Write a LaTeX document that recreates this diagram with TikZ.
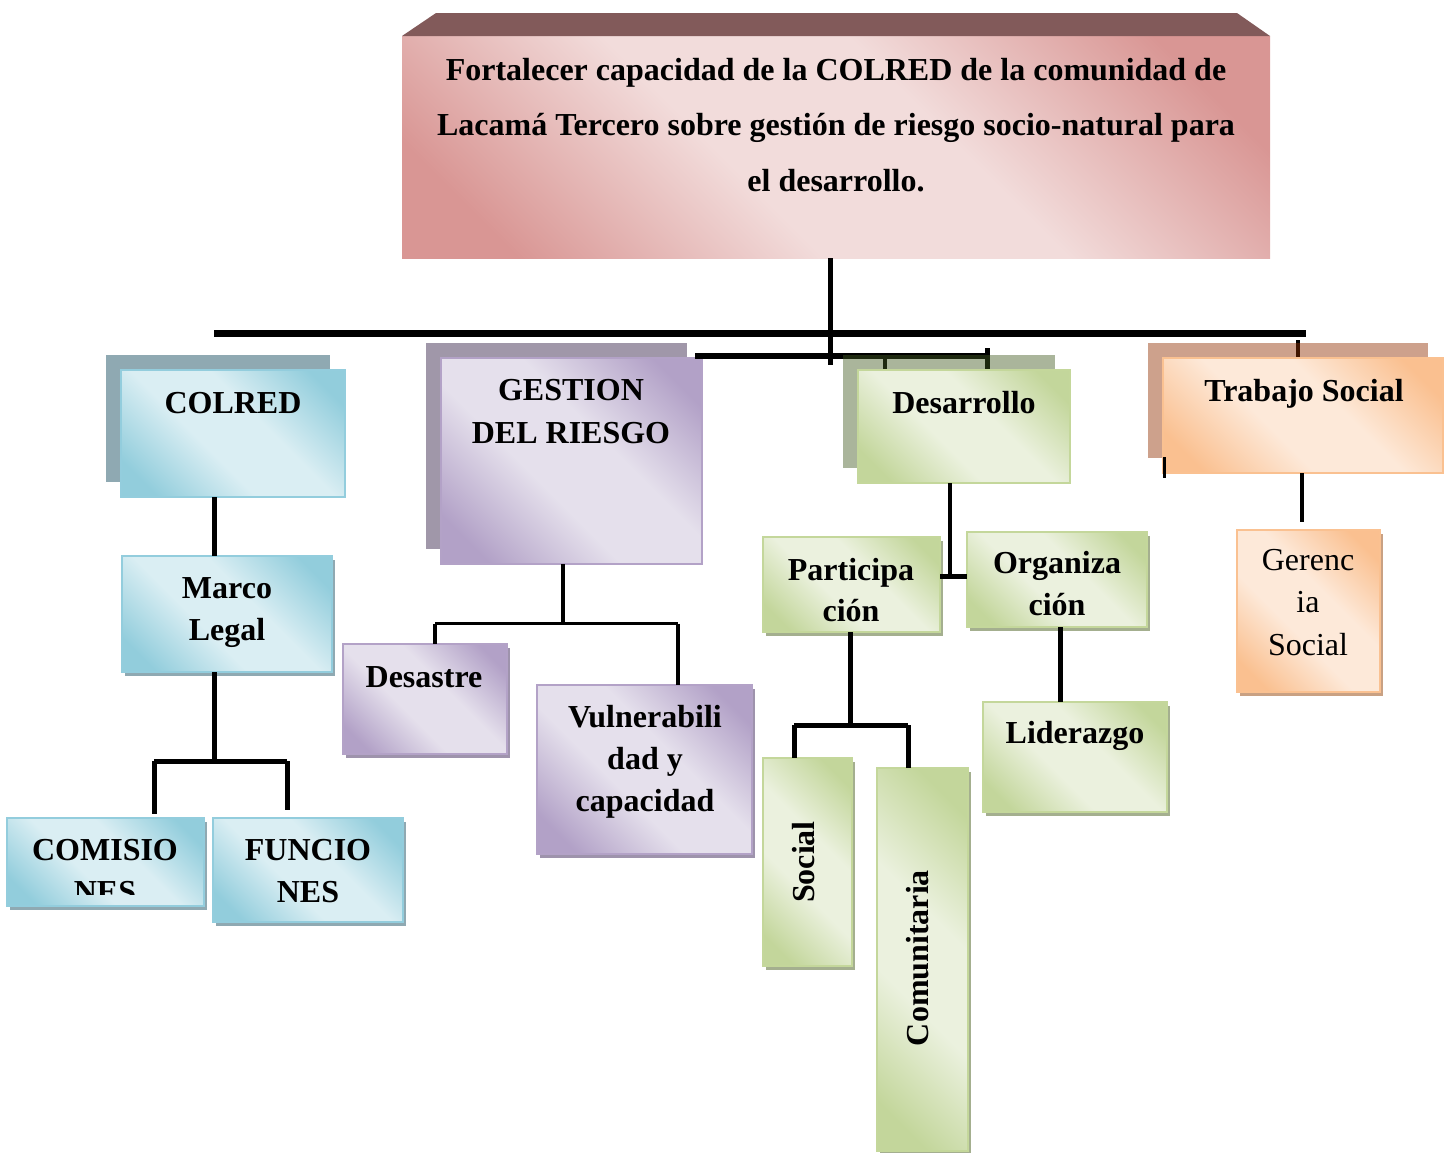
\documentclass[tikz,border=0pt]{standalone}
\usepackage{fontspec}
\setmainfont{Liberation Serif}
\usetikzlibrary{shadows}

\definecolor{pinkL}{HTML}{F2DCDB}
\definecolor{pinkD}{HTML}{D99694}
\definecolor{titletop}{HTML}{825A5A}
\definecolor{blueL}{HTML}{DAEEF3}
\definecolor{blueD}{HTML}{92CDDC}
\definecolor{blueB}{HTML}{93CDDD}
\definecolor{blueS}{HTML}{8FA9B2}
\definecolor{purpL}{HTML}{E5E0EC}
\definecolor{purpD}{HTML}{B2A1C7}
\definecolor{purpB}{HTML}{B3A2C7}
\definecolor{purpS}{HTML}{A097A9}
\definecolor{purpSs}{HTML}{9E93AC}
\definecolor{greenL}{HTML}{EBF1DE}
\definecolor{greenD}{HTML}{C3D69B}
\definecolor{greenB}{HTML}{C4D79B}
\definecolor{greenS}{RGB}{66,90,34}
\definecolor{greenSs}{HTML}{A4AF8F}
\definecolor{orangeL}{HTML}{FDE9D9}
\definecolor{orangeD}{HTML}{FAC090}
\definecolor{orangeB}{HTML}{FAC191}
\definecolor{orangeS}{RGB}{144,47,0}
\definecolor{orangeSs}{HTML}{C9A183}

\pgfdeclarehorizontalshading{gpink}{100bp}{color(0bp)=(pinkD); color(22bp)=(pinkD); color(42bp)=(pinkL); color(58bp)=(pinkL); color(78bp)=(pinkD); color(100bp)=(pinkD)}
\pgfdeclarehorizontalshading{gblue}{100bp}{color(0bp)=(blueD); color(22bp)=(blueD); color(42bp)=(blueL); color(58bp)=(blueL); color(78bp)=(blueD); color(100bp)=(blueD)}
\pgfdeclarehorizontalshading{gpurp}{100bp}{color(0bp)=(purpD); color(22bp)=(purpD); color(42bp)=(purpL); color(58bp)=(purpL); color(78bp)=(purpD); color(100bp)=(purpD)}
\pgfdeclarehorizontalshading{ggreen}{100bp}{color(0bp)=(greenD); color(22bp)=(greenD); color(42bp)=(greenL); color(58bp)=(greenL); color(78bp)=(greenD); color(100bp)=(greenD)}
\pgfdeclarehorizontalshading{gorange}{100bp}{color(0bp)=(orangeD); color(22bp)=(orangeD); color(42bp)=(orangeL); color(58bp)=(orangeL); color(78bp)=(orangeD); color(100bp)=(orangeD)}

\newcommand\lns[1]{\begin{tabular}[t]{@{}c@{}}#1\end{tabular}}

\tikzset{
  bx/.style={rectangle, inner sep=0pt, outer sep=0pt, anchor=north west, line width=1.5pt, shading angle=45},
  pinkbox/.style={bx, shading=gpink},
  bluebox/.style={bx, draw=blueB, shading=gblue},
  purpbox/.style={bx, draw=purpB, shading=gpurp},
  greenbox/.style={bx, draw=greenB, shading=ggreen},
  orangebox/.style={bx, draw=orangeB, shading=gorange},
  smallsh/.style={general shadow={shadow xshift=3pt, shadow yshift=-4pt, fill=#1}},
  bigsh/.style={general shadow={shadow xshift=-15pt, shadow yshift=15pt, fill=#1}},
  bigtsh/.style={general shadow={shadow xshift=-15pt, shadow yshift=15pt, fill=#1, fill opacity=0.45}},
  conn/.style={line width=5pt, draw=black},
  thinconn/.style={line width=3.5pt, draw=black},
  lbl/.style={anchor=base, inner sep=0pt, font=\bfseries\fontsize{32}{42}\selectfont},
}

\begin{document}
\begin{tikzpicture}[x=1pt, y=-1pt]
\useasboundingbox (0,0) rectangle (1451,1152);

% ---- title box
\node[pinkbox, minimum width=868pt, minimum height=222pt] (title) at (402,36) {};
\fill[titletop] (title.north west) -- (436,13) -- (1237,13) -- (title.north east) -- cycle;

% ---- boxes behind main lines
\node[purpbox, bigsh=purpS, minimum width=261pt, minimum height=206pt] (gestion) at (441,358) {};
\node[bluebox, bigsh=blueS, minimum width=224pt, minimum height=127pt] (colred) at (121,370) {};

% ---- main lines
\coordinate (mbL) at (214,333);
\coordinate (mbR) at (1306,333);
\coordinate (jt) at (830,365);
\coordinate (b2L) at (695,356);
\coordinate (b2R) at (990,356);
\coordinate (tk1a) at (885,356);
\coordinate (tk1b) at (885,371);
\coordinate (tk2a) at (987,348);
\coordinate (tk2b) at (987,371);
\coordinate (tk3a) at (1298,340);
\coordinate (tk3b) at (1298,358);
\draw[line width=7pt] (mbL) -- (mbR);
\draw[conn] (title.south -| jt) -- (jt);
\draw[line width=6pt] (b2L) -- (b2R);
\draw[line width=4.5pt] (tk1a) -- (tk1b);
\draw[conn] (tk2a) -- (tk2b);
\draw[thinconn] (tk3a) -- (tk3b);

% ---- boxes with translucent shadows
\node[greenbox, bigtsh=greenS, minimum width=212pt, minimum height=113pt] (desarrollo) at (858,370) {};
\node[orangebox, bigtsh=orangeS, minimum width=280pt, minimum height=115pt] (trabajo) at (1163,358) {};

% ---- other boxes
\node[bluebox, smallsh=blueS, minimum width=210pt, minimum height=116pt] (marco) at (122,556) {};
\node[bluebox, smallsh=blueS, minimum width=197pt, minimum height=88pt] (comis) at (7,818) {};
\node[bluebox, smallsh=blueS, minimum width=190pt, minimum height=104pt] (funcio) at (213,818) {};
\node[purpbox, smallsh=purpSs, minimum width=164pt, minimum height=110pt] (desastre) at (343,644) {};
\node[purpbox, smallsh=purpSs, minimum width=215pt, minimum height=169pt] (vuln) at (537,685) {};
\node[greenbox, smallsh=greenSs, minimum width=177pt, minimum height=95pt] (partic) at (763,537) {};
\node[greenbox, smallsh=greenSs, minimum width=180pt, minimum height=95pt] (organiza) at (967,532) {};
\node[greenbox, smallsh=greenSs, minimum width=184pt, minimum height=110pt] (lider) at (983,702) {};
\node[greenbox, smallsh=greenSs, minimum width=89pt, minimum height=208pt] (social) at (763,758) {};
\node[greenbox, smallsh=greenSs, minimum width=91pt, minimum height=383pt] (comun) at (877,768) {};
\node[orangebox, smallsh=orangeSs, minimum width=143pt, minimum height=162pt] (gerencia) at (1237,530) {};

% ---- connectors
\coordinate (j1) at (214,520);
\draw[conn] (colred.south -| j1) -- (marco.north -| j1);
\coordinate (j2) at (214,761);
\coordinate (j2L) at (154,761);
\coordinate (j2R) at (287,761);
\draw[conn] (marco.south -| j2) -- (j2);
\draw[conn] (j2L) -- (j2R);
\draw[conn, shorten >=4pt] (j2L) -- (comis.north -| j2L);
\draw[conn, shorten >=8pt] (j2R) -- (funcio.north -| j2R);

\coordinate (g1) at (563,623.5);
\coordinate (gL) at (435,623.5);
\coordinate (gR) at (678,623.5);
\draw[thinconn] (gestion.south -| g1) -- (g1);
\draw[thinconn] (gL) -- (gR);
\draw[thinconn] (gL) -- (desastre.north -| gL);
\draw[thinconn] (gR) -- (vuln.north -| gR);

\coordinate (d1) at (950,576);
\draw[line width=4.5pt] (desarrollo.south -| d1) -- (d1);
\draw[line width=5pt] (partic.east |- d1) -- (organiza.west |- d1);

\coordinate (p1) at (850,725);
\coordinate (pL) at (794,725);
\coordinate (pR) at (908,725);
\draw[conn] (partic.south -| p1) -- (p1);
\draw[conn] (pL) -- (pR);
\draw[conn] (pL) -- (social.north -| pL);
\draw[conn] (pR) -- (comun.north -| pR);

\coordinate (o1) at (1060,650);
\draw[conn] (organiza.south -| o1) -- (lider.north -| o1);

\coordinate (t1) at (1302,500);
\draw[thinconn, shorten >=8pt] (trabajo.south -| t1) -- (gerencia.north -| t1);
\coordinate (tx1) at (1164,457);
\coordinate (tx2) at (1164,478);
\draw[line width=3pt] (tx1) -- (tx2);

% ---- texts
\node[lbl, font=\bfseries\fontsize{32}{55.5}\selectfont] (title-t) at (836,80)
  {\lns{Fortalecer capacidad de la COLRED de la comunidad de\\Lacamá Tercero sobre gestión de riesgo socio-natural para\\el desarrollo.}};
\node[lbl] (colred-t) at (233,413) {COLRED};
\node[lbl] (marco-t) at (227,598) {\lns{Marco\\Legal}};
\begin{scope}
  \clip (7,800) rectangle (204,894);
  \node[lbl] (comis-t) at (105,860) {\lns{COMISIO\\NES}};
\end{scope}
\node[lbl] (funcio-t) at (308,860) {\lns{FUNCIO\\NES}};
\node[lbl, font=\bfseries\fontsize{32}{43}\selectfont] (gestion-t) at (571,400) {\lns{GESTION\\DEL RIESGO}};
\node[lbl] (desastre-t) at (424,687) {Desastre};
\node[lbl] (vuln-t) at (645,727) {\lns{Vulnerabili\\dad y\\capacidad}};
\node[lbl] (desarrollo-t) at (964,413) {Desarrollo};
\begin{scope}
  \clip (763,537) rectangle (940,621);
  \node[lbl, font=\bfseries\fontsize{32}{41}\selectfont] (partic-t) at (851,580) {\lns{Participa\\ción}};
\end{scope}
\node[lbl] (organiza-t) at (1057,573) {\lns{Organiza\\ción}};
\node[lbl] (lider-t) at (1075,743) {Liderazgo};
\node[lbl, anchor=center, rotate=90] (social-t) at (804,862) {Social};
\node[lbl, anchor=center, rotate=90] (comun-t) at (918,958) {Comunitaria};
\node[lbl] (trabajo-t) at (1304,401) {Trabajo Social};
\node[lbl, font=\fontsize{32}{42.5}\selectfont] (gerencia-t) at (1308,570) {\lns{Gerenc\\ia\\Social}};
\end{tikzpicture}
\end{document}
